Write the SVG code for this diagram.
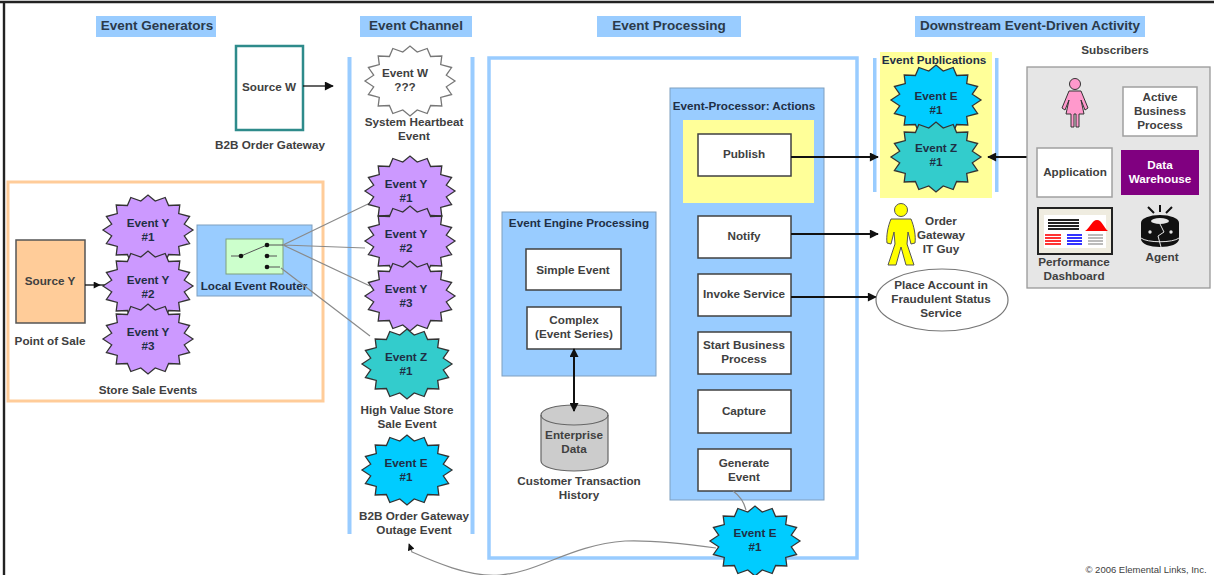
<svg xmlns="http://www.w3.org/2000/svg" width="1214" height="575" viewBox="0 0 1214 575">
<style>
text{font-family:"Liberation Sans",Arial,sans-serif;font-size:11.7px;font-weight:bold;fill:#404040;text-anchor:middle}
.h{font-size:13.5px;fill:#2b3a4a}
.d{fill:#1f2f45}
.hb{fill:#99ccff}
.bar{fill:#99ccff}
.panel{fill:#99ccff;stroke:#7f9fbf;stroke-width:1}
.btn{fill:#fff;stroke:#404040;stroke-width:1.5}
.sb{fill:#fff;stroke:#a0a0a0;stroke-width:1.5}
.burst{stroke:#333;stroke-width:1.3;stroke-linejoin:miter}
.y{fill:#cc99ff}.z{fill:#33cccc}.e{fill:#00ccff}.w{fill:#fff;stroke:#777}
.blk{fill:none;stroke:#111;stroke-width:2}
.thin{fill:none;stroke:#111;stroke-width:1.3}
.gry{fill:none;stroke:#8a8a8a;stroke-width:1.2}
</style>
<defs>
<polygon id="burst" points="45,0 36.300,5.800 41.600,13.500 30.700,16.400 31.800,25 20.600,24.500 17.200,32.500 7.200,28.900 0,35 -7.200,28.900 -17.200,32.500 -20.600,24.500 -31.800,25 -30.700,16.400 -41.600,13.500 -36.300,5.800 -45,0 -36.300,-5.800 -41.600,-13.500 -30.700,-16.400 -31.800,-25 -20.600,-24.500 -17.200,-32.500 -7.200,-28.900 0,-35 7.200,-28.900 17.200,-32.500 20.600,-24.500 31.800,-25 30.700,-16.400 41.600,-13.500 36.300,-5.800"/>
<marker id="ah" viewBox="0 0 10 10" refX="9" refY="5" markerWidth="11" markerHeight="9" markerUnits="userSpaceOnUse" orient="auto-start-reverse"><path d="M0,0L10,5L0,10z" fill="#111"/></marker>
<marker id="ahs" viewBox="0 0 10 10" refX="9" refY="5" markerWidth="8" markerHeight="7" markerUnits="userSpaceOnUse" orient="auto"><path d="M0,0L10,5L0,10z" fill="#111"/></marker>
</defs>
<rect width="1214" height="575" fill="#fff"/>
<path d="M0,2H1214M4,2V575" fill="none" stroke="#222" stroke-width="2.400"/>

<g id="headers">
<rect class="hb" x="96" y="16" width="120" height="21"/><text class="h" x="157" y="30">Event Generators</text>
<rect class="hb" x="360" y="16" width="112" height="21"/><text class="h" x="416" y="30">Event Channel</text>
<rect class="hb" x="597" y="16" width="144" height="21"/><text class="h" x="669" y="30">Event Processing</text>
<rect class="hb" x="915" y="16" width="230" height="21"/><text class="h" x="1030" y="30">Downstream Event-Driven Activity</text>
</g>

<g id="point-of-sale-zone"><rect x="8" y="182" width="315" height="219" fill="none" stroke="#ffcc99" stroke-width="3"/></g>
<g id="channel-bars"><rect class="bar" x="347.500" y="57" width="4" height="477"/><rect class="bar" x="470.500" y="57" width="4" height="477"/></g>
<g id="processing-zone"><rect x="489" y="58" width="368" height="500" fill="none" stroke="#99ccff" stroke-width="3.500"/></g>

<g id="source-w"><rect x="236" y="46" width="67" height="84" fill="#fff" stroke="#2e8b8b" stroke-width="2.500"/><text x="269" y="91">Source W</text><text x="270" y="149">B2B Order Gateway</text></g>
<g id="source-y"><rect x="16" y="240" width="69" height="83" fill="#ffcc99" stroke="#555" stroke-width="1.500"/><text x="50" y="285">Source Y</text><text x="50" y="345">Point of Sale</text></g>

<g id="router">
<rect class="panel" x="197" y="225" width="115" height="71"/>
<rect x="226" y="239" width="57" height="35" fill="#ccffcc" stroke="#7f9f7f"/>
<path d="M231,256H241L267,245H283M267,256H277M267,267H280" fill="none" stroke="#555" stroke-width="1"/>
<circle cx="241" cy="256" r="2.300" fill="#111"/><circle cx="267" cy="245" r="2.300" fill="#111"/><circle cx="267" cy="256" r="2.300" fill="#111"/><circle cx="267" cy="267" r="2.300" fill="#111"/>
<text x="254" y="290" class="d">Local Event Router</text>
</g>

<g id="engine">
<rect class="panel" x="502" y="212" width="154" height="164"/>
<text class="d" x="579" y="227">Event Engine Processing</text>
<rect class="btn" x="526" y="249" width="95" height="41"/><text x="573" y="274">Simple Event</text>
<rect class="btn" x="527" y="307" width="94" height="42"/><text x="574" y="324">Complex</text><text x="574" y="338">(Event Series)</text>
</g>
<g id="enterprise-data">
<path d="M541,415V461C541,467 556,471 574,471S608,467 608,461V415C608,409 592,405 574,405S541,409 541,415Z" fill="#cccccc" stroke="#666" stroke-width="1.200"/>
<path d="M541,415C541,421 556,425 574,425S608,421 608,415" fill="none" stroke="#666" stroke-width="1.200"/>
<text x="574" y="439">Enterprise</text><text x="574" y="453">Data</text>
<text x="579" y="485">Customer Transaction</text><text x="579" y="499">History</text>
</g>

<g id="actions">
<rect class="panel" x="670" y="88" width="154" height="412"/>
<text class="d" x="744" y="110">Event-Processor: Actions</text>
<rect x="683" y="120" width="131" height="83" fill="#ffff99"/>
<rect class="btn" x="698" y="134" width="93" height="42"/><text x="744" y="158">Publish</text>
<rect class="btn" x="698" y="216" width="93" height="42"/><text x="744" y="240">Notify</text>
<rect class="btn" x="698" y="274" width="93" height="42"/><text x="744" y="298">Invoke Service</text>
<rect class="btn" x="698" y="332" width="93" height="42"/><text x="744" y="349">Start Business</text><text x="744" y="363">Process</text>
<rect class="btn" x="698" y="390" width="93" height="43"/><text x="744" y="415">Capture</text>
<rect class="btn" x="698" y="449" width="93" height="42"/><text x="744" y="467">Generate</text><text x="744" y="481">Event</text>
</g>

<g id="publications-panel">
<rect x="880" y="52" width="112" height="146" fill="#ffff99"/>
<rect class="bar" x="873" y="58" width="3.500" height="134"/><rect class="bar" x="995" y="58" width="3.500" height="134"/>
<text x="934" y="64" class="d">Event Publications</text>
</g>

<g id="connectors">
<path class="gry" d="M283,245L370,203M283,245L365,248M283,245L370,286M281,268L370,336"/>
<path class="thin" d="M85,285H100H108" marker-mid="url(#ahs)"/>
<path class="thin" d="M303,86H333" marker-end="url(#ah)"/>
<path class="blk" d="M574,349V411" marker-start="url(#ah)" marker-end="url(#ah)"/>
<path class="blk" d="M791,157H878" marker-end="url(#ah)"/>
<path class="blk" d="M791,234H878" marker-end="url(#ah)"/>
<path class="blk" d="M791,297H876" marker-end="url(#ah)"/>
<path class="blk" d="M1027,157H988" marker-end="url(#ah)"/>
<path class="gry" d="M733,491Q743,498 746,510"/>
<path class="gry" d="M716,548C680,543 650,540 625,541C570,545 540,572 500,575C470,578 430,560 412,552L409,544" marker-end="url(#ahs)"/>
</g>

<g id="store-y1"><use href="#burst" class="burst y" x="148" y="230"/><text class="d" x="148" y="227">Event Y</text><text class="d" x="148" y="241">#1</text></g>
<g id="store-y2"><use href="#burst" class="burst y" x="148" y="286"/><text class="d" x="148" y="284">Event Y</text><text class="d" x="148" y="298">#2</text></g>
<g id="store-y3"><use href="#burst" class="burst y" x="148" y="339"/><text class="d" x="148" y="336">Event Y</text><text class="d" x="148" y="350">#3</text></g>
<text x="148" y="394">Store Sale Events</text>

<g id="event-w"><use href="#burst" class="burst w" x="410" y="81"/><text x="405" y="77">Event W</text><text x="405" y="91">???</text><text x="414" y="126">System Heartbeat</text><text x="414" y="140">Event</text></g>
<g id="channel-y1"><use href="#burst" class="burst y" x="410" y="191"/><text class="d" x="406" y="188">Event Y</text><text class="d" x="406" y="202">#1</text></g>
<g id="channel-y2"><use href="#burst" class="burst y" x="410" y="241"/><text class="d" x="406" y="238">Event Y</text><text class="d" x="406" y="252">#2</text></g>
<g id="channel-y3"><use href="#burst" class="burst y" x="410" y="296"/><text class="d" x="406" y="293">Event Y</text><text class="d" x="406" y="307">#3</text></g>
<g id="channel-z"><use href="#burst" class="burst z" x="407" y="364"/><text class="d" x="406" y="361">Event Z</text><text class="d" x="406" y="375">#1</text><text x="407" y="414">High Value Store</text><text x="407" y="428">Sale Event</text></g>
<g id="channel-e"><use href="#burst" class="burst e" x="407" y="470"/><text class="d" x="406" y="467">Event E</text><text class="d" x="406" y="481">#1</text><text x="414" y="520">B2B Order Gateway</text><text x="414" y="534">Outage Event</text></g>

<g id="generated-e"><use href="#burst" class="burst e" x="755" y="541"/><text class="d" x="755" y="537">Event E</text><text class="d" x="755" y="551">#1</text></g>

<g id="publication-e"><use href="#burst" class="burst e" x="936" y="100"/><text class="d" x="936" y="100">Event E</text><text class="d" x="936" y="114">#1</text></g>
<g id="publication-z"><use href="#burst" class="burst z" x="936" y="157"/><text class="d" x="936" y="152">Event Z</text><text class="d" x="936" y="166">#1</text></g>

<g id="it-guy">
<circle cx="901" cy="210" r="6.500" fill="#ffff00" stroke="#555"/>
<path d="M891,219H911C914,226 916,236 915,243L911,244L908,232L907,244L914,265H906L901,247L896,265H888L895,244L894,232L891,244L887,243C886,236 888,226 891,219Z" fill="#ffff00" stroke="#555" stroke-width="1"/>
<text x="941" y="225">Order</text><text x="941" y="239">Gateway</text><text x="941" y="253">IT Guy</text>
</g>
<g id="fraud-service"><ellipse cx="942" cy="300" rx="66" ry="31" fill="#fff" stroke="#777" stroke-width="1.200"/><text x="941" y="289">Place Account in</text><text x="941" y="303">Fraudulent Status</text><text x="941" y="317">Service</text></g>

<g id="subscribers">
<text x="1115" y="54">Subscribers</text>
<rect x="1027" y="67" width="183" height="221" fill="#e6e6e6" stroke="#999" stroke-width="1.300"/>
</g>
<g id="subscriber-person">
<circle cx="1075" cy="84" r="5.500" fill="#ff99cc" stroke="#333"/>
<path d="M1069,91H1081L1088,108L1085,110L1081,100L1084,114H1079V127H1076V114H1074V127H1071V114H1066L1069,100L1065,110L1062,108Z" fill="#ff99cc" stroke="#333"/>
</g>
<g id="active-business-process"><rect class="sb" x="1123" y="87" width="74" height="49"/><text x="1160" y="101">Active</text><text x="1160" y="115">Business</text><text x="1160" y="129">Process</text></g>
<g id="application"><rect class="sb" x="1037" y="148" width="75" height="49"/><text x="1075" y="176">Application</text></g>
<g id="data-warehouse"><rect x="1121" y="150" width="78" height="45" fill="#800080"/><text x="1160" y="169" style="fill:#fff">Data</text><text x="1160" y="183" style="fill:#fff">Warehouse</text></g>
<g id="dashboard">
<rect x="1038" y="208" width="74" height="46" fill="#efece0" stroke="#222" stroke-width="2"/>
<rect x="1044" y="215" width="62" height="33" fill="#fff"/>
<path d="M1048,220H1079M1048,223H1079M1048,226H1079M1048,229H1079" stroke="#222" stroke-width="2"/>
<path d="M1045,235H1061M1045,238H1061M1045,241H1061M1045,244H1061" stroke="#ff3333" stroke-width="2"/>
<path d="M1067,235H1082M1067,238H1082M1067,241H1082M1067,244H1082" stroke="#3333ff" stroke-width="2"/>
<path d="M1088,235H1103M1088,238H1103M1088,241H1103M1088,244H1103" stroke="#bbb" stroke-width="2"/>
<path d="M1085,231C1090,228 1092,220 1097,220C1102,220 1104,228 1108,231Z" fill="#f00"/>
<text x="1074" y="266">Performance</text><text x="1074" y="280">Dashboard</text>
</g>
<g id="agent">
<path d="M1148,207L1154,213M1160,205V212M1172,207L1166,213" stroke="#111" stroke-width="2"/>
<ellipse cx="1160" cy="223" rx="19" ry="8" fill="#111"/>
<path d="M1141,223V239C1141,244 1150,247 1160,247S1179,244 1179,239V223Z" fill="#111"/>
<ellipse cx="1160" cy="221" rx="9" ry="3" fill="#e6e6e6"/>
<path d="M1160,224L1164,232L1158,236L1161,247M1141,238C1147,243 1173,243 1179,238" fill="none" stroke="#e6e6e6" stroke-width="1"/>
<circle cx="1150" cy="232" r="1.700" fill="#e6e6e6"/><circle cx="1171" cy="232" r="1.700" fill="#e6e6e6"/>
<text x="1162" y="261">Agent</text>
</g>
<text x="1146" y="573" style="font-size:9.500px;font-weight:normal">© 2006 Elemental Links, Inc.</text>
</svg>
